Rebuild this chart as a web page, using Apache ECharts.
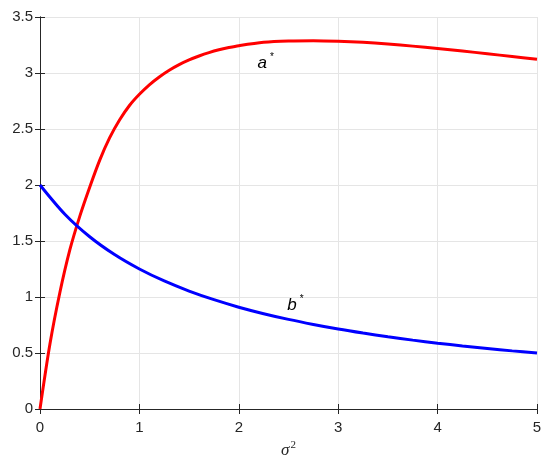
<!DOCTYPE html>
<html>
<head>
<meta charset="utf-8">
<script src="https://cdn.jsdelivr.net/npm/echarts@6/dist/echarts.min.js"></script>
<style>
  html, body { margin: 0; padding: 0; background: #fff; }
  #chart { width: 550px; height: 461px; }
</style>
</head>
<body>
<div id="chart"></div>
<script>
// values
var sigma2A = [0, 0.1, 0.2, 0.3, 0.4, 0.5, 0.6, 0.7, 0.8, 0.9, 1, 1.1, 1.2, 1.3, 1.4, 1.5, 1.6, 1.7, 1.8, 1.9, 2,
               2.25, 2.5, 2.75, 3, 3.25, 3.5, 3.75, 4, 4.25, 4.5, 4.75, 5];
var aStar   = [0, 0.58, 1.04, 1.42, 1.72, 1.98, 2.22, 2.42, 2.58, 2.71, 2.81, 2.895, 2.965, 3.025, 3.075, 3.117, 3.152, 3.182, 3.207, 3.227, 3.244,
               3.274, 3.286, 3.289, 3.284, 3.274, 3.259, 3.24, 3.219, 3.196, 3.172, 3.147, 3.122];
var sigma2B = [0, 0.25, 0.5, 0.75, 1, 1.25, 1.5, 1.75, 2, 2.25, 2.5, 2.75, 3, 3.25, 3.5, 3.75, 4, 4.25, 4.5, 4.75, 5];
var bStar   = [2, 1.739, 1.538, 1.379, 1.25, 1.143, 1.053, 0.976, 0.909, 0.851, 0.8, 0.755, 0.714, 0.678, 0.645, 0.615, 0.588, 0.563, 0.541, 0.519, 0.5];

function pairs(xs, ys) {
  return xs.map(function (x, i) { return [x, ys[i]]; });
}

var axisColor = '#262626';
var gridColor = '#e5e5e5';
var tickFont = { color: axisColor, fontSize: 15, fontFamily: 'Liberation Sans, Arial, sans-serif' };

var chart = echarts.init(document.getElementById('chart'));

var labelRich = {
  i: { fontStyle: 'italic', fontSize: 17, color: '#000', fontFamily: 'Liberation Sans, Arial, sans-serif' },
  s: { fontSize: 10, color: '#000', verticalAlign: 'top', padding: [0, 0, 12, 3] }
};

// box edges (top / right) carry ticks but no labels
function boxAxis(extra) {
  return Object.assign({
    type: 'value',
    axisLine: { show: true, lineStyle: { color: axisColor, width: 1 } },
    axisTick: { show: true, inside: true, length: 5, lineStyle: { color: axisColor } },
    axisLabel: { show: false },
    splitLine: { show: false }
  }, extra);
}

chart.setOption({
  animation: false,
  grid: { left: 40, right: 13, top: 17, bottom: 52, show: false, outerBoundsMode: 'none' },
  xAxis: [{
    type: 'value', min: 0, max: 5, interval: 1,
    name: '{s|σ}{p|2}', nameLocation: 'middle', nameGap: 30,
    nameTextStyle: {
      rich: {
        s: { fontFamily: 'Liberation Serif, Times New Roman, serif', fontStyle: 'italic', fontSize: 17, color: axisColor },
        p: { fontFamily: 'Liberation Serif, Times New Roman, serif', fontSize: 11, color: axisColor, padding: [0, 0, 10, 1] }
      }
    },
    axisLine: { show: true, onZero: false, lineStyle: { color: axisColor, width: 1 } },
    axisTick: { show: true, inside: true, length: 5, lineStyle: { color: axisColor } },
    axisLabel: Object.assign({ margin: 11 }, tickFont),
    splitLine: { show: true, lineStyle: { color: gridColor } }
  }, boxAxis({ min: 0, max: 5, interval: 1, position: 'top' })],
  yAxis: [{
    type: 'value', min: 0, max: 3.5, interval: 0.5,
    axisLine: { show: true, onZero: false, lineStyle: { color: axisColor, width: 1 } },
    axisTick: { show: true, inside: true, length: 5, lineStyle: { color: axisColor } },
    axisLabel: Object.assign({ margin: 7 }, tickFont),
    splitLine: { show: true, lineStyle: { color: gridColor } }
  }, boxAxis({ min: 0, max: 3.5, interval: 0.5, position: 'right' })],
  series: [{
    name: 'a*', type: 'line', smooth: 0.3, showSymbol: false,
    data: pairs(sigma2A, aStar),
    lineStyle: { color: '#ff0000', width: 3 },
    itemStyle: { color: '#ff0000' },
    markPoint: {
      symbol: 'circle', symbolSize: 0,
      label: { show: true, formatter: '{i|a}{s|*}', rich: labelRich },
      data: [{ coord: [2.27, 3.09] }]
    }
  }, {
    name: 'b*', type: 'line', smooth: 0.3, showSymbol: false,
    data: pairs(sigma2B, bStar),
    lineStyle: { color: '#0000ff', width: 3 },
    itemStyle: { color: '#0000ff' },
    markPoint: {
      symbol: 'circle', symbolSize: 0,
      label: { show: true, formatter: '{i|b}{s|*}', rich: labelRich },
      data: [{ coord: [2.57, 0.93] }]
    }
  }]
});
</script>
</body>
</html>
